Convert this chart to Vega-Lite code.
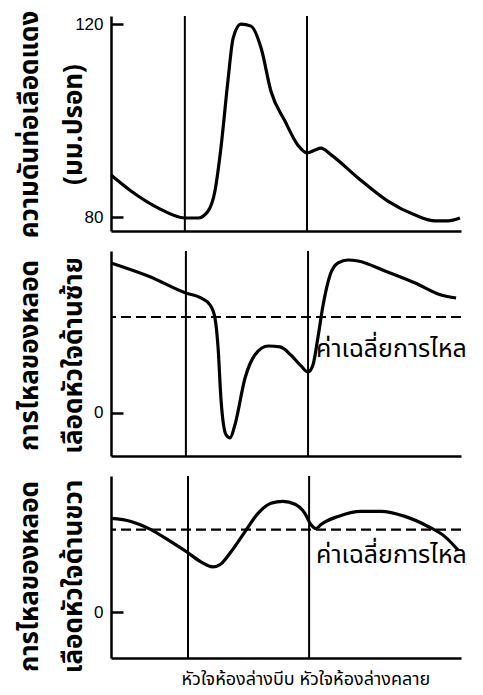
{
  "$schema": "https://vega.github.io/schema/vega-lite/v6.json",
  "background": "white",
  "padding": {"left": 15, "top": 10, "right": 10, "bottom": 12},
  "spacing": 20,
  "bounds": "flush",
  "config": {
    "view": {"stroke": null},
    "font": "Noto Sans Thai, Noto Sans, sans-serif",
    "axis": {"domainColor": "black", "domainWidth": 2.5, "tickColor": "black", "tickWidth": 2.5, "labelColor": "black", "titleColor": "black", "grid": false, "labelFont": "Liberation Sans"}
  },
  "datasets": {
    "aortic": [
      {"t": 0, "pressure": 88.7}, {"t": 5.7, "pressure": 85.4}, {"t": 13.4, "pressure": 81.9}, {"t": 21.1, "pressure": 79.8},
      {"t": 24.9, "pressure": 79.8}, {"t": 27.7, "pressure": 81.2}, {"t": 29.7, "pressure": 85.4}, {"t": 31.4, "pressure": 94.3},
      {"t": 33.4, "pressure": 108.2}, {"t": 34.9, "pressure": 117.1}, {"t": 37.1, "pressure": 120.0}, {"t": 40.0, "pressure": 119.6},
      {"t": 42.9, "pressure": 115.0}, {"t": 45.7, "pressure": 106.1}, {"t": 49.7, "pressure": 99.9}, {"t": 53.4, "pressure": 94.9},
      {"t": 56.0, "pressure": 93.3}, {"t": 58.3, "pressure": 93.9}, {"t": 60.0, "pressure": 94.3}, {"t": 62.9, "pressure": 92.9},
      {"t": 70.6, "pressure": 88.1}, {"t": 79.1, "pressure": 83.3}, {"t": 86.9, "pressure": 80.4}, {"t": 92.6, "pressure": 79.2},
      {"t": 96.3, "pressure": 79.2}, {"t": 99.7, "pressure": 79.8}
    ],
    "leftFlow": [
      {"t": 0, "flow": 156.3}, {"t": 10.6, "flow": 142.7}, {"t": 21.4, "flow": 125.0}, {"t": 25.7, "flow": 119.8},
      {"t": 28.3, "flow": 112.5}, {"t": 29.7, "flow": 99.0}, {"t": 30.6, "flow": 67.7}, {"t": 31.4, "flow": 15.6},
      {"t": 32.9, "flow": -22.9}, {"t": 34.0, "flow": -26.0}, {"t": 35.4, "flow": -12.5}, {"t": 38.3, "flow": 36.5},
      {"t": 41.1, "flow": 60.4}, {"t": 44.9, "flow": 69.8}, {"t": 48.3, "flow": 68.8}, {"t": 51.4, "flow": 60.4},
      {"t": 54.3, "flow": 49.0}, {"t": 56.3, "flow": 42.7}, {"t": 57.7, "flow": 50.0}, {"t": 59.1, "flow": 78.1},
      {"t": 60.6, "flow": 112.5}, {"t": 62.6, "flow": 143.8}, {"t": 64.9, "flow": 156.3}, {"t": 67.7, "flow": 159.4},
      {"t": 70.6, "flow": 158.3}, {"t": 78.3, "flow": 147.9}, {"t": 86.9, "flow": 135.4}, {"t": 94.3, "flow": 122.9},
      {"t": 98.6, "flow": 119.8}
    ],
    "rightFlow": [
      {"t": 0, "flow": 113.4}, {"t": 5.7, "flow": 109.8}, {"t": 11.4, "flow": 100.0}, {"t": 17.1, "flow": 85.4},
      {"t": 22.0, "flow": 72.0}, {"t": 25.7, "flow": 61.0}, {"t": 29.1, "flow": 54.9}, {"t": 31.4, "flow": 58.5},
      {"t": 34.3, "flow": 73.2}, {"t": 38.3, "flow": 97.6}, {"t": 42.0, "flow": 119.5}, {"t": 45.7, "flow": 131.7},
      {"t": 49.1, "flow": 134.1}, {"t": 52.6, "flow": 130.5}, {"t": 55.4, "flow": 119.5}, {"t": 57.1, "flow": 106.1},
      {"t": 58.6, "flow": 101.2}, {"t": 60.0, "flow": 106.1}, {"t": 64.9, "flow": 115.9}, {"t": 71.4, "flow": 122.0},
      {"t": 77.1, "flow": 122.0}, {"t": 84.0, "flow": 115.9}, {"t": 90.6, "flow": 103.7}, {"t": 95.4, "flow": 91.5},
      {"t": 99.1, "flow": 75.6}
    ],
    "boundaries": [
      {"panel": "aortic", "t": 21.1}, {"panel": "aortic", "t": 56.0},
      {"panel": "left", "t": 21.4}, {"panel": "left", "t": 56.3},
      {"panel": "right", "t": 22.0}, {"panel": "right", "t": 56.6}
    ],
    "means": [
      {"panel": "left", "mean": 100, "label": "ค่าเฉลี่ยการไหล"},
      {"panel": "right", "mean": 100, "label": "ค่าเฉลี่ยการไหล"}
    ]
  },
  "vconcat": [
    {
      "width": 350,
      "height": 215,
      "layer": [
        {
          "data": {"name": "aortic"},
          "mark": {"type": "line", "interpolate": "monotone", "color": "black", "strokeWidth": 3.2},
          "encoding": {
            "x": {"field": "t", "type": "quantitative", "scale": {"domain": [0, 100], "nice": false},
                  "axis": {"labels": false, "ticks": false, "title": null}},
            "y": {"field": "pressure", "type": "quantitative", "scale": {"domain": [77.1, 121.7], "nice": false, "zero": false},
                  "axis": {"values": [80, 120], "tickSize": -12, "labelPadding": 20, "labelFontSize": 17,
                           "title": ["ความดันท่อเลือดแดง", "(มม.ปรอท)"], "titleX": -82, "titleY": 108,
                           "titleAlign": "center", "titleBaseline": "middle", "titleAngle": -90, "titleLineHeight": 44,
                           "titleFontSize": 26, "titleFontWeight": "bold"}}
          }
        },
        {
          "data": {"name": "boundaries"},
          "transform": [{"filter": "datum.panel === 'aortic'"}],
          "mark": {"type": "rule", "color": "black", "strokeWidth": 2},
          "encoding": {"x": {"field": "t", "type": "quantitative"}}
        }
      ]
    },
    {
      "width": 350,
      "height": 205,
      "layer": [
        {
          "data": {"name": "leftFlow"},
          "mark": {"type": "line", "interpolate": "monotone", "color": "black", "strokeWidth": 3.2},
          "encoding": {
            "x": {"field": "t", "type": "quantitative", "scale": {"domain": [0, 100], "nice": false},
                  "axis": {"labels": false, "ticks": false, "title": null}},
            "y": {"field": "flow", "type": "quantitative", "scale": {"domain": [-44.8, 168.75], "nice": false, "zero": false},
                  "axis": {"values": [0], "tickSize": -12, "labelPadding": 20, "labelFontSize": 17,
                           "title": ["การไหลของหลอด", "เลือดหัวใจด้านซ้าย"], "titleX": -82, "titleY": 104,
                           "titleAlign": "center", "titleBaseline": "middle", "titleAngle": -90, "titleLineHeight": 44,
                           "titleFontSize": 26, "titleFontWeight": "bold"}}
          }
        },
        {
          "data": {"name": "boundaries"},
          "transform": [{"filter": "datum.panel === 'left'"}],
          "mark": {"type": "rule", "color": "black", "strokeWidth": 2},
          "encoding": {"x": {"field": "t", "type": "quantitative"}}
        },
        {
          "data": {"name": "means"},
          "transform": [{"filter": "datum.panel === 'left'"}],
          "mark": {"type": "rule", "color": "black", "strokeWidth": 2.2, "strokeDash": [10, 5]},
          "encoding": {"y": {"field": "mean", "type": "quantitative"}}
        },
        {
          "data": {"name": "means"},
          "transform": [{"filter": "datum.panel === 'left'"}],
          "mark": {"type": "text", "align": "left", "baseline": "middle", "fontSize": 25, "dy": 32, "color": "black"},
          "encoding": {
            "x": {"datum": 58.6, "type": "quantitative"},
            "y": {"field": "mean", "type": "quantitative"},
            "text": {"field": "label"}
          }
        }
      ]
    },
    {
      "width": 350,
      "height": 182,
      "layer": [
        {
          "data": {"name": "rightFlow"},
          "mark": {"type": "line", "interpolate": "monotone", "color": "black", "strokeWidth": 3.2},
          "encoding": {
            "x": {"field": "t", "type": "quantitative", "scale": {"domain": [0, 100], "nice": false},
                  "axis": {"labels": false, "ticks": false, "title": "หัวใจห้องล่างบีบ หัวใจห้องล่างคลาย",
                           "titleX": 70, "titleY": 21, "titleAlign": "left", "titleBaseline": "middle",
                           "titleFontSize": 18, "titleFontWeight": "normal"}},
            "y": {"field": "flow", "type": "quantitative", "scale": {"domain": [-54.9, 164.6], "nice": false, "zero": false},
                  "axis": {"values": [0], "tickSize": -12, "labelPadding": 20, "labelFontSize": 17,
                           "title": ["การไหลของหลอด", "เลือดหัวใจด้านขวา"], "titleX": -82, "titleY": 100,
                           "titleAlign": "center", "titleBaseline": "middle", "titleAngle": -90, "titleLineHeight": 44,
                           "titleFontSize": 26, "titleFontWeight": "bold"}}
          }
        },
        {
          "data": {"name": "boundaries"},
          "transform": [{"filter": "datum.panel === 'right'"}],
          "mark": {"type": "rule", "color": "black", "strokeWidth": 2},
          "encoding": {"x": {"field": "t", "type": "quantitative"}}
        },
        {
          "data": {"name": "means"},
          "transform": [{"filter": "datum.panel === 'right'"}],
          "mark": {"type": "rule", "color": "black", "strokeWidth": 2.2, "strokeDash": [10, 5]},
          "encoding": {"y": {"field": "mean", "type": "quantitative"}}
        },
        {
          "data": {"name": "means"},
          "transform": [{"filter": "datum.panel === 'right'"}],
          "mark": {"type": "text", "align": "left", "baseline": "middle", "fontSize": 25, "dy": 25, "color": "black"},
          "encoding": {
            "x": {"datum": 58.6, "type": "quantitative"},
            "y": {"field": "mean", "type": "quantitative"},
            "text": {"field": "label"}
          }
        }
      ]
    }
  ]
}
